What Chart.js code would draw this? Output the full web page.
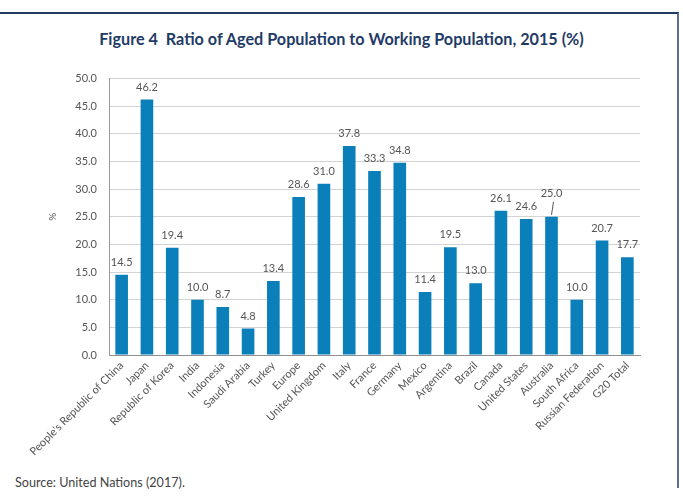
<!DOCTYPE html>
<html>
<head>
<meta charset="utf-8">
<script src="https://cdn.jsdelivr.net/npm/chart.js@4.4.1/dist/chart.umd.min.js"></script>
<style>
  html, body { margin: 0; padding: 0; background: #fff; }
  body { width: 683px; height: 498px; position: relative; overflow: hidden; font-family: Lato, "Open Sans", sans-serif; }
  #frame { position: absolute; left: -4px; top: 12px; width: 683px; height: 476px; border-top: 2px solid #1f3b63; border-right: 2px solid #5a7099; box-sizing: border-box; }
  #title { position: absolute; left: 0; width: 683px; top: 29px; text-align: center; font-family: Lato, sans-serif; font-weight: bold; font-size: 16.2px; color: #1f3b66; }
  #wrap { position: absolute; left: 0; top: 60px; width: 680px; height: 400px; }
  #source { position: absolute; left: 15px; top: 475px; font-family: Lato, sans-serif; font-size: 12.6px; color: #444; }
</style>
</head>
<body>
<div id="frame"></div>
<div id="title">Figure 4&nbsp; Ratio of Aged Population to Working Population, 2015 (%)</div>
<div id="wrap"><canvas id="c" width="680" height="400"></canvas></div>
<div id="source">Source: United Nations (2017).</div>
<script>
const categories = ["People's Republic of China", "Japan", "Republic of Korea", "India", "Indonesia", "Saudi Arabia", "Turkey", "Europe", "United Kingdom", "Italy", "France", "Germany", "Mexico", "Argentina", "Brazil", "Canada", "United States", "Australia", "South Africa", "Russian Federation", "G20 Total"];
const ratioValues = [14.5, 46.2, 19.4, 10.0, 8.7, 4.8, 13.4, 28.6, 31.0, 37.8, 33.3, 34.8, 11.4, 19.5, 13.0, 26.1, 24.6, 25.0, 10.0, 20.7, 17.7];
const yTicks = [0, 5, 10, 15, 20, 25, 30, 35, 40, 45, 50];

const valueLabels = {
  id: 'valueLabels',
  afterDatasetsDraw(chart) {
    const ctx = chart.ctx;
    const meta = chart.getDatasetMeta(0);
    ctx.save();
    ctx.font = '11px Lato, sans-serif';
    ctx.fillStyle = '#555';
    ctx.textAlign = 'center';
    ctx.textBaseline = 'bottom';
    meta.data.forEach((bar, i) => {
      const v = chart.data.datasets[0].data[i];
      let y = bar.y - 7;
      if (chart.data.labels[i] === 'Australia') {
        ctx.strokeStyle = '#555';
        ctx.lineWidth = 1;
        ctx.beginPath();
        ctx.moveTo(bar.x + 2, bar.y - 15);
        ctx.lineTo(bar.x, bar.y - 2);
        ctx.stroke();
        y = bar.y - 18;
      }
      ctx.fillText(v.toFixed(1), bar.x, y);
    });
    ctx.restore();
  }
};

new Chart(document.getElementById('c'), {
  type: 'bar',
  data: {
    labels: categories,
    datasets: [{
      data: ratioValues,
      backgroundColor: '#0a7fba',
      borderWidth: 0,
      categoryPercentage: 1.0,
      barPercentage: 0.5
    }]
  },
  options: {
    responsive: false,
    animation: false,
    layout: { padding: { left: 47, right: 40, top: 15, bottom: 0 } },
    plugins: { legend: { display: false }, tooltip: { enabled: false }, title: { display: false } },
    scales: {
      x: {
        grid: { display: false, drawTicks: false },
        border: { color: '#8f8f8f', width: 1 },
        ticks: { color: '#555', font: { family: 'Lato, sans-serif', size: 11 }, maxRotation: 45, minRotation: 45, padding: 4, autoSkip: false },
        afterFit(s) { s.height = 105; }
      },
      y: {
        min: 0, max: 50,
        afterBuildTicks(s) { s.ticks = yTicks.map(v => ({ value: v })); },
        grid: { color: '#d3d3d3', drawTicks: false },
        border: { color: '#999', width: 1 },
        ticks: { color: '#555', font: { family: 'Lato, sans-serif', size: 11 }, padding: 12, callback: v => v.toFixed(1) },
        title: { display: true, text: '%', color: '#555', font: { family: 'Lato, sans-serif', size: 10 }, padding: 0 },
        afterFit(s) { s.width = 62; }
      }
    }
  },
  plugins: [valueLabels]
});
</script>
</body>
</html>
